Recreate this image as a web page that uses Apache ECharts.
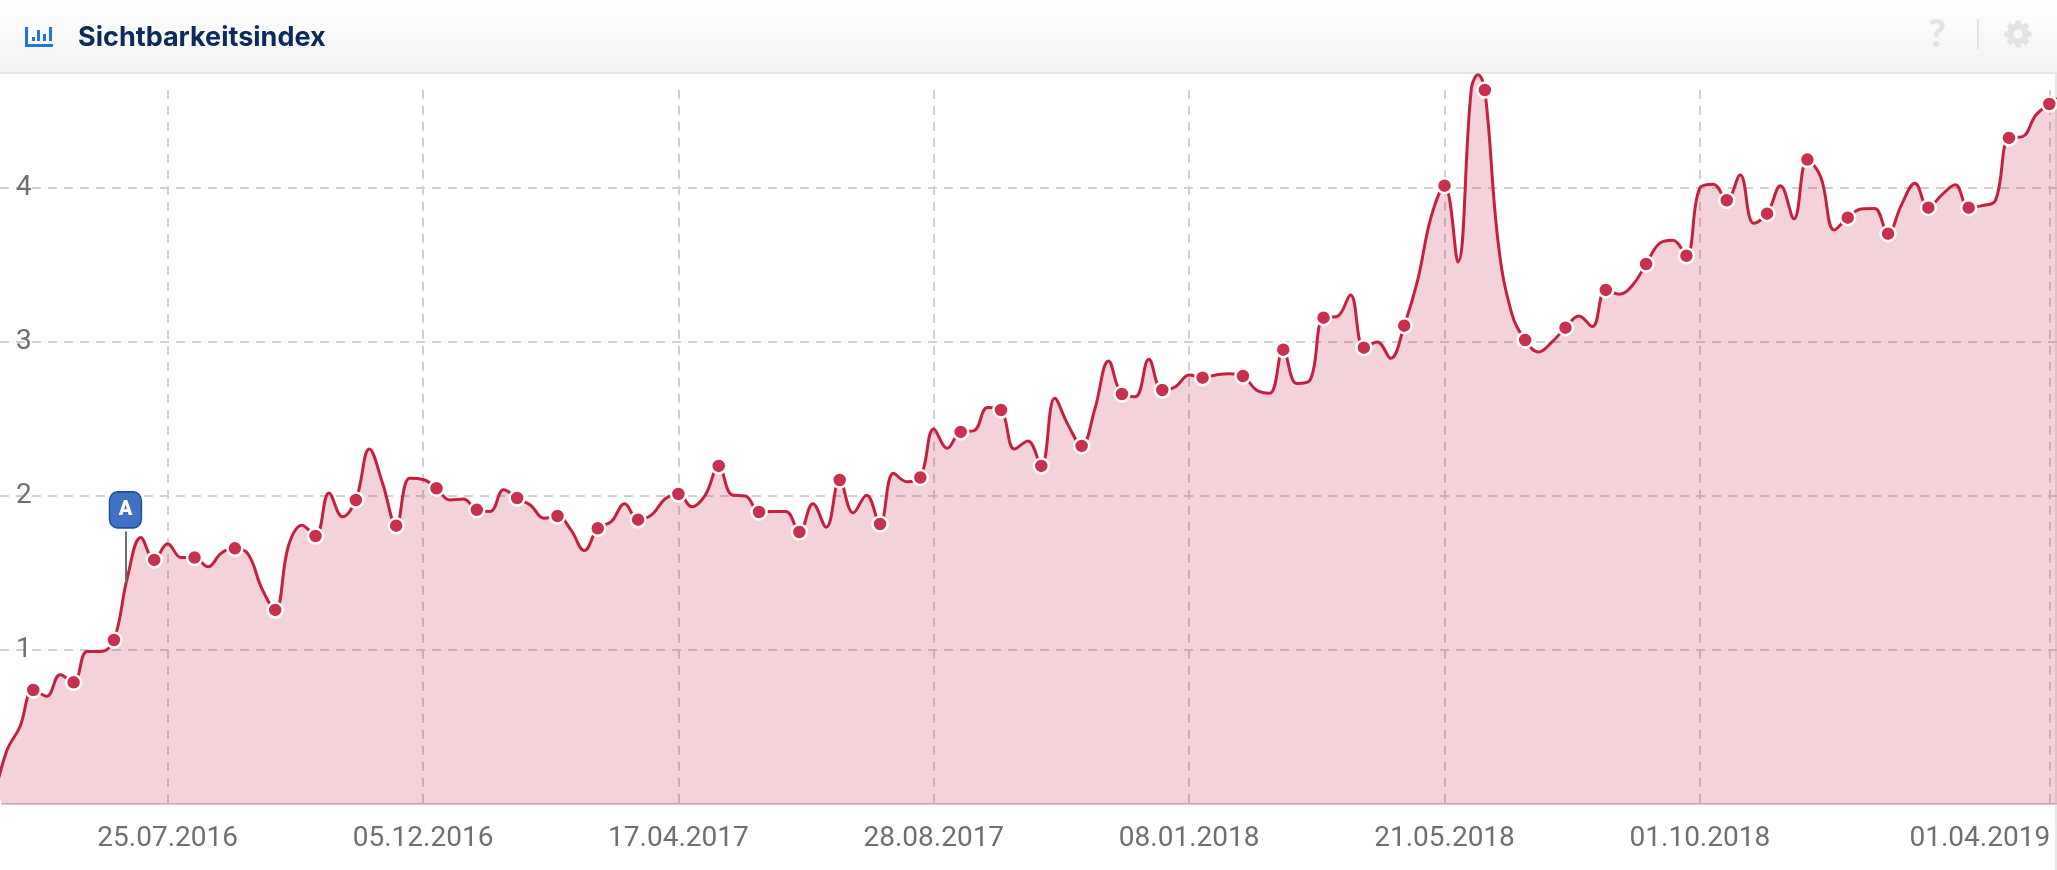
<!DOCTYPE html>
<html>
<head>
<meta charset="utf-8">
<title>Sichtbarkeitsindex</title>
<script src="https://cdn.jsdelivr.net/npm/echarts@6/dist/echarts.min.js"></script>
<style>
    html, body { margin: 0; padding: 0; background: #fff; }
    #chart { width: 2057px; height: 870px; }
</style>
</head>
<body>
<div id="chart"></div>
<script>
// Wochenwerte, erster Wert = 25.04.2016, dann alle 7 Tage
const indexValues = [
    0.0, 0.34, 0.50, 0.74, 0.70, 0.84, 0.79, 0.99, 0.99, 1.065,
    1.47, 1.73, 1.585, 1.69, 1.60, 1.60, 1.54, 1.63, 1.66, 1.62,
    1.40, 1.26, 1.68, 1.81, 1.74, 2.02, 1.865, 1.974, 2.305, 2.08,
    1.807, 2.115, 2.107, 2.05, 1.974, 1.98, 1.91, 1.90, 2.04, 1.987,
    1.94, 1.855, 1.87, 1.78, 1.645, 1.79, 1.833, 1.95, 1.846, 1.877,
    1.98, 2.013, 1.93, 2.006, 2.195, 2.006, 2.0, 1.896, 1.90, 1.90,
    1.766, 1.95, 1.797, 2.104, 1.89, 2.005, 1.818, 2.147, 2.093, 2.12,
    2.435, 2.31, 2.416, 2.424, 2.575, 2.558, 2.305, 2.357, 2.195, 2.634,
    2.46, 2.325, 2.57, 2.877, 2.662, 2.645, 2.887, 2.688, 2.71, 2.786,
    2.768, 2.786, 2.794, 2.779, 2.688, 2.667, 2.95, 2.73, 2.753, 3.158,
    3.165, 3.305, 2.963, 3.0, 2.894, 3.106, 3.40, 3.81, 4.015, 3.52,
    4.646, 4.636, 3.64, 3.186, 3.013, 2.935, 3.0, 3.093, 3.169, 3.1,
    3.338, 3.31, 3.37, 3.506, 3.64, 3.66, 3.56, 4.0, 4.024, 3.92,
    4.084, 3.77, 3.833, 4.015, 3.80, 4.184, 4.07, 3.727, 3.807, 3.864,
    3.867, 3.703, 3.89, 4.03, 3.872, 3.955, 4.02, 3.872, 3.885, 3.92,
    4.325, 4.333, 4.474, 4.545, 4.6
];
// Spitze zwischen zwei Wochenwerten (Mai/Juni 2018)
const peakDate = new Date(2018, 5, 7, 12);
const peakValue = 4.735;

const xTicks = ['2016-07-25', '2016-12-05', '2017-04-17', '2017-08-28', '2018-01-08', '2018-05-21', '2018-10-01', '2019-04-01'];
const yTicks = [0, 1, 2, 3, 4];

// Ereignis-Fahne "A"
const flagName = 'A';
const flagDate = new Date(2016, 6, 3);
const flagValue = 1.91;
const flagStemTop = 1.77;
const flagStemBottom = 1.435;

const axisStart = new Date(2016, 3, 28, 16);
const axisEnd = new Date(2019, 3, 5);
const axisTop = 4.636;

const TEXT_COLOR = '#6f6f6f';
const LINE_COLOR = '#c4213f';
const DOT_COLOR = '#c9304f';
const GRID_COLOR = '#d2cfd0';

function parseDay(s) {
    const p = s.split('-').map(Number);
    return new Date(p[0], p[1] - 1, p[2]).getTime();
}

function formatDay(t) {
    const d = new Date(t);
    const pad = n => String(n).padStart(2, '0');
    return pad(d.getDate()) + '.' + pad(d.getMonth() + 1) + '.' + d.getFullYear();
}

// Punkte bauen, nur jeder dritte Wochenwert bekommt einen Marker
const points = indexValues.map((v, i) => ({
    value: [new Date(2016, 3, 25 + 7 * i).getTime(), v],
    symbol: i % 3 === 0 ? 'circle' : 'none'
}));
points.push({ value: [peakDate.getTime(), peakValue], symbol: 'none' });
points.sort((a, b) => a.value[0] - b.value[0]);

const xTickValues = xTicks.map(parseDay);
const lastTick = xTickValues[xTickValues.length - 1];

function headerGraphics() {
    const iconColor = '#1f74e0';
    const greyIcon = '#e3e3e3';
    const items = [
        {
            type: 'rect', shape: { x: 0, y: 0, width: 2057, height: 72 }, silent: true,
            style: { fill: new echarts.graphic.LinearGradient(0, 0, 0, 1, [
                { offset: 0, color: '#ffffff' },
                { offset: 1, color: '#f3f3f3' }
            ]) }
        },
        { type: 'rect', shape: { x: 0, y: 72, width: 2057, height: 2 }, style: { fill: '#e6e6e6' } },
        { type: 'rect', shape: { x: 2055, y: 74, width: 2, height: 796 }, style: { fill: '#e8e8e8' } },
        // Icon
        { type: 'rect', shape: { x: 25, y: 27, width: 3, height: 19 }, style: { fill: iconColor } },
        { type: 'rect', shape: { x: 25, y: 44, width: 28, height: 3 }, style: { fill: iconColor } },
        { type: 'rect', shape: { x: 32, y: 37, width: 3, height: 4 }, style: { fill: iconColor } },
        { type: 'rect', shape: { x: 37, y: 30, width: 3, height: 11 }, style: { fill: iconColor } },
        { type: 'rect', shape: { x: 43, y: 34, width: 3, height: 7 }, style: { fill: iconColor } },
        { type: 'rect', shape: { x: 49, y: 27, width: 3, height: 14 }, style: { fill: iconColor } },
        // Titel
        {
            type: 'text', x: 78, y: 38,
            style: {
                text: 'Sichtbarkeitsindex', fill: '#0d2a5c',
                font: '700 27px Inter', verticalAlign: 'middle'
            }
        },
        // Hilfe, Trenner, Zahnrad
        {
            type: 'text', x: 1937, y: 35,
            style: {
                text: '?', fill: greyIcon, font: '900 38px Lato',
                align: 'center', verticalAlign: 'middle'
            }
        },
        { type: 'rect', shape: { x: 1977, y: 19, width: 2, height: 30 }, style: { fill: '#e4e4e4' } },
        { type: 'ring', shape: { cx: 2018, cy: 34, r: 10.5, r0: 4.5 }, style: { fill: greyIcon } }
    ];
    for (let i = 0; i < 8; i++) {
        items.push({
            type: 'rect', x: 2018, y: 34, rotation: i * Math.PI / 4,
            shape: { x: -2.8, y: -13.5, width: 5.6, height: 5, r: 1 },
            style: { fill: greyIcon }
        });
    }
    return items;
}

const chart = echarts.init(document.getElementById('chart'));
chart.setOption({
    animation: false,
    grid: { left: 0, right: 0, top: 90, bottom: 66 },
    graphic: headerGraphics(),
    xAxis: {
        type: 'value',
        scale: true,
        min: axisStart.getTime(),
        max: axisEnd.getTime(),
        axisLine: { show: true, lineStyle: { color: '#dcc6cc', width: 2 } },
        axisTick: { show: false, customValues: xTickValues },
        axisLabel: {
            customValues: xTickValues,
            color: TEXT_COLOR,
            fontFamily: 'Roboto',
            fontSize: 28,
            margin: 21,
            hideOverlap: false,
            // letztes Datum steht links vom Strich
            formatter: t => t === lastTick ? '{last|' + formatDay(t) + '}' : formatDay(t),
            rich: { last: { fontFamily: 'Roboto', fontSize: 28, color: TEXT_COLOR, padding: [0, 139, 0, 0] } }
        },
        splitLine: {
            show: true,
            lineStyle: { color: GRID_COLOR, width: 2, type: [9, 7] }
        }
    },
    yAxis: {
        type: 'value',
        min: 0,
        max: axisTop,
        interval: 1,
        axisLine: { show: false },
        axisTick: { show: false },
        axisLabel: {
            inside: true,
            margin: 16,
            color: TEXT_COLOR,
            fontFamily: 'Roboto',
            fontSize: 28,
            showMinLabel: false,
            showMaxLabel: false,
            formatter: v => yTicks.includes(v) ? String(v) : ''
        },
        splitLine: {
            show: true,
            showMinLine: false,
            showMaxLine: false,
            lineStyle: { color: GRID_COLOR, width: 2, type: [9, 7] }
        }
    },
    series: [{
        name: 'Sichtbarkeitsindex',
        type: 'line',
        data: points,
        clip: false,
        smooth: 0.4,
        showAllSymbol: true,
        symbolSize: 15,
        itemStyle: { color: DOT_COLOR, borderColor: '#fff', borderWidth: 2.5 },
        lineStyle: { color: LINE_COLOR, width: 3 },
        areaStyle: { color: 'rgba(195, 32, 63, 0.2)', opacity: 1, origin: 'start' },
        z: 3,
        markLine: {
            silent: true,
            symbol: 'none',
            label: { show: false },
            lineStyle: { color: '#6e6e6e', width: 2, type: 'solid' },
            data: [[
                { coord: [flagDate.getTime(), flagStemTop] },
                { coord: [flagDate.getTime(), flagStemBottom] }
            ]]
        },
        markPoint: {
            silent: true,
            symbol: 'roundRect',
            symbolSize: [32, 36],
            itemStyle: { color: '#3f72c4', borderColor: '#1c4f95', borderWidth: 1.5 },
            label: {
                show: true, formatter: flagName, color: '#fff',
                fontFamily: 'Roboto', fontWeight: 900, fontSize: 20
            },
            data: [{ coord: [flagDate.getTime(), flagValue] }]
        }
    }]
});

window.addEventListener('resize', () => chart.resize());
</script>
</body>
</html>
